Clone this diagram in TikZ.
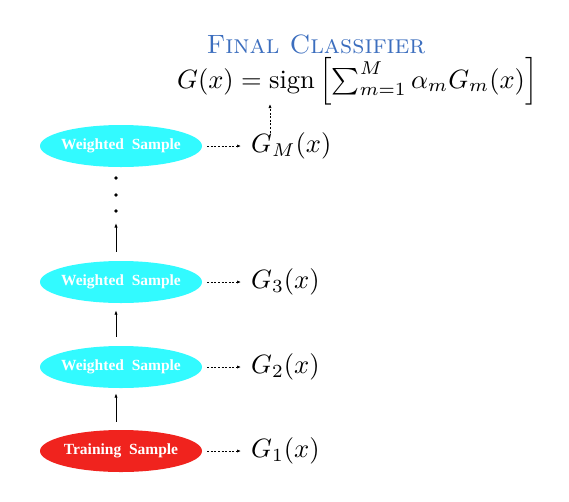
\documentclass[tikz,border=0pt]{standalone}
\usepackage{amsmath}
\usepackage{fontspec}
\newfontfamily\boxfont{Liberation Serif}
\usetikzlibrary{arrows.meta,shapes.geometric}
\definecolor{cyanfill}{RGB}{50,250,255}
\definecolor{redfill}{RGB}{240,35,30}
\definecolor{titleblue}{RGB}{60,110,190}
\newcommand{\bigmath}[1]{\scalebox{2.65}{\fontsize{10}{12}\selectfont$#1$}}
\begin{document}
\begin{tikzpicture}[x=1pt,y=-1pt,
  sample/.style={ellipse,minimum width=162pt,minimum height=42pt,inner xsep=-30pt,inner ysep=0pt,
    text=white,font=\boxfont\bfseries\fontsize{15.5}{17}\selectfont},
  wsample/.style={sample,fill=cyanfill},
  tsample/.style={sample,fill=redfill},
  glabel/.style={anchor=west,inner sep=0pt},
  dasharrow/.style={draw,line width=0.75pt,dash pattern=on 2pt off 1.6pt,
    -{Latex[length=4pt,width=3.2pt]}},
  uparrow/.style={draw,line width=0.8pt,-{Latex[length=4.5pt,width=3.2pt]}},
  dotmark/.style={circle,fill=black,inner sep=0pt,minimum size=3.6pt}
]
\useasboundingbox (0,0) rectangle (569,501);
% ellipses
\node[tsample] (e1) at (121,451) {Training\ \ Sample};
\node[wsample] (e2) at (121,367) {Weighted\ \ Sample};
\node[wsample] (e3) at (121,282) {Weighted\ \ Sample};
\node[wsample] (eM) at (121,146) {Weighted\ \ Sample};
% labels
\node[glabel] (g1) at (251,451) {\bigmath{G_1(x)}};
\node[glabel] (g2) at (251,367) {\bigmath{G_2(x)}};
\node[glabel] (g3) at (251,282) {\bigmath{G_3(x)}};
\node[glabel] (gM) at (251,146) {\bigmath{G_M(x)}};
% title and formula
\node[anchor=base,inner sep=0pt,text=titleblue,font=\fontsize{26.5}{30}\selectfont] (title) at (316,53) {\textsc{Final Classifier}};
\node[anchor=base west,inner sep=0pt] (formula) at (177,88)
  {\bigmath{G(x)=\mathrm{sign}\left[\sum_{m=1}^{M}\alpha_m G_m(x)\right]}};
% dashed arrows
\foreach \a/\b in {e1/g1,e2/g2,e3/g3,eM/gM}
  \draw[dasharrow,shorten <=5pt,shorten >=10pt] (\a.east) -- (\b.west);
% vertical arrows
\draw[uparrow,shorten <=8pt,shorten >=5pt] ([xshift=-5pt]e1.north) -- ([xshift=-5pt]e2.south);
\draw[uparrow,shorten <=9pt,shorten >=7pt] ([xshift=-5pt]e2.north) -- ([xshift=-5pt]e3.south);
\coordinate (vtop) at (116,223);
\draw[uparrow,shorten <=9pt] ([xshift=-5pt]e3.north) -- (vtop);
% dots
\node[dotmark] (d1) at (116,178) {};
\node[dotmark] (d2) at (116,195) {};
\node[dotmark] (d3) at (116,211) {};
% dotted arrow up to formula
\coordinate (fa) at (270,104);
\draw[dasharrow] (gM.north -| fa) -- (fa);
\end{tikzpicture}
\end{document}
